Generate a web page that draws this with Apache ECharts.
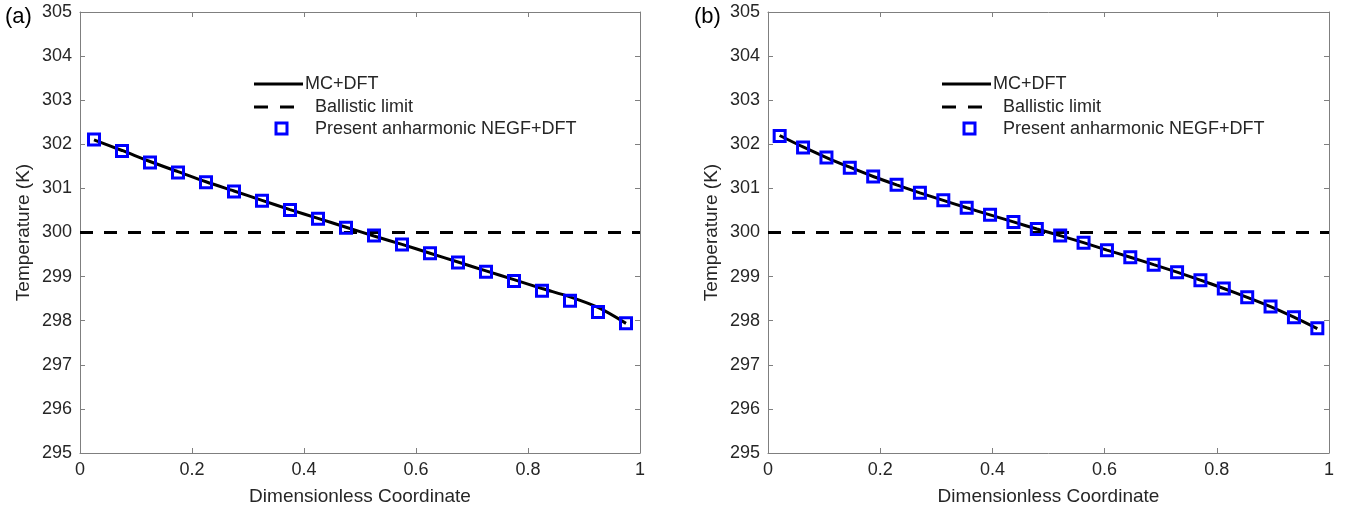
<!DOCTYPE html>
<html><head><meta charset="utf-8">
<script src="https://cdn.jsdelivr.net/npm/echarts@6/dist/echarts.min.js"></script>
<style>html,body{margin:0;padding:0;background:#fff}#c{width:1354px;height:512px}</style>
</head><body><div id="c"></div>
<script>
// ---- data ----
const xTicks = [0, 0.2, 0.4, 0.6, 0.8, 1];
const yTicks = [295, 296, 297, 298, 299, 300, 301, 302, 303, 304, 305];
const legendNames = ['MC+DFT', 'Ballistic limit', 'Present anharmonic NEGF+DFT'];
const panelLabels = ['(a)', '(b)'];

// panel (a): 20 points
const xA = [0.025,0.075,0.125,0.175,0.225,0.275,0.325,0.375,0.425,0.475,0.525,0.575,0.625,0.675,0.725,0.775,0.825,0.875,0.925,0.975];
const negfA = [302.11,301.85,301.59,301.36,301.14,300.93,300.72,300.51,300.31,300.11,299.93,299.73,299.53,299.32,299.11,298.90,298.68,298.45,298.20,297.94];
const mcA = [302.10,301.86,301.61,301.38,301.15,300.94,300.73,300.52,300.32,300.12,299.92,299.73,299.53,299.33,299.13,298.93,298.73,298.54,298.30,297.94];

// panel (b): 24 points
const xB = [0.0208,0.0625,0.1042,0.1458,0.1875,0.2292,0.2708,0.3125,0.3542,0.3958,0.4375,0.4792,0.5208,0.5625,0.6042,0.6458,0.6875,0.7292,0.7708,0.8125,0.8542,0.8958,0.9375,0.9792];
const negfB = [302.19,301.93,301.70,301.47,301.27,301.08,300.90,300.73,300.56,300.40,300.24,300.08,299.93,299.77,299.60,299.44,299.27,299.10,298.92,298.73,298.53,298.32,298.08,297.83];
const mcB = [302.20,301.94,301.70,301.48,301.27,301.08,300.90,300.73,300.56,300.40,300.24,300.08,299.93,299.77,299.60,299.44,299.27,299.10,298.92,298.73,298.53,298.32,298.08,297.82];

const ballisticX = [0, 1];
const ballisticY = [300, 300];

// ---- styling ----
const FONT = '"Liberation Sans", Arial, sans-serif';
const AX = '#7f7f7f';
const TXT = '#262626';

const pairs = (xs, ys) => xs.map((x, i) => [x, ys[i]]);

const grids = [
  {left: 80, right: 714, top: 12, bottom: 59},
  {left: 768, right: 25, top: 12, bottom: 59}
];

function xAxes(g) {
  return [
    {type:'value', gridIndex:g, position:'bottom', min:0, max:1, interval:0.2,
     axisLine:{show:true, onZero:false, lineStyle:{color:AX, width:1}},
     axisTick:{show:true, inside:true, length:5, lineStyle:{color:AX}},
     axisLabel:{show:true, margin:8, color:TXT, fontSize:18, fontFamily:FONT,
       formatter: v => (xTicks.indexOf(+v.toFixed(1)) >= 0 ? String(+v.toFixed(1)) : '')},
     splitLine:{show:false},
     name:'Dimensionless Coordinate', nameLocation:'middle', nameGap:34,
     nameTextStyle:{color:TXT, fontSize:19, fontFamily:FONT}},
    {type:'value', gridIndex:g, position:'top', min:0, max:1, interval:0.2,
     axisLine:{show:true, onZero:false, lineStyle:{color:AX, width:1}},
     axisTick:{show:true, inside:true, length:5, lineStyle:{color:AX}},
     axisLabel:{show:false}, splitLine:{show:false}}
  ];
}
function yAxes(g) {
  return [
    {type:'value', gridIndex:g, position:'left', min:295, max:305, interval:1,
     axisLine:{show:true, onZero:false, lineStyle:{color:AX, width:1}},
     axisTick:{show:true, inside:true, length:5, lineStyle:{color:AX}},
     axisLabel:{show:true, margin:8, color:TXT, fontSize:18, fontFamily:FONT,
       formatter: v => (yTicks.indexOf(Math.round(v)) >= 0 ? String(Math.round(v)) : '')},
     splitLine:{show:false},
     name:'Temperature (K)', nameLocation:'middle', nameGap:47, nameRotate:90,
     nameTextStyle:{color:TXT, fontSize:19, fontFamily:FONT}},
    {type:'value', gridIndex:g, position:'right', min:295, max:305, interval:1,
     axisLine:{show:true, onZero:false, lineStyle:{color:AX, width:1}},
     axisTick:{show:true, inside:true, length:5, lineStyle:{color:AX}},
     axisLabel:{show:false}, splitLine:{show:false}}
  ];
}

function panelSeries(g, xs, mc, negf) {
  const xi = g * 2, yi = g * 2;
  return [
    {type:'line', xAxisIndex:xi, yAxisIndex:yi, data:pairs(ballisticX, ballisticY),
     showSymbol:false, symbol:'none', silent:true, z:2,
     lineStyle:{color:'#000', width:3, type:[13, 11]}},
    {type:'line', xAxisIndex:xi, yAxisIndex:yi, data:pairs(xs, mc),
     showSymbol:false, symbol:'none', smooth:0.3, silent:true, z:3,
     lineStyle:{color:'#000', width:3}},
    {type:'scatter', xAxisIndex:xi, yAxisIndex:yi, data:pairs(xs, negf),
     symbol:'rect', symbolSize:11, z:4,
     itemStyle:{color:'rgba(0,0,0,0)', borderColor:'#0000ff', borderWidth:3, opacity:1}}
  ];
}

function legendGraphic(dx) {
  const tStyle = (x, y, t) => ({type:'text', x:x + dx, y:y,
    style:{text:t, fill:TXT, font:'18px ' + FONT, verticalAlign:'middle'}});
  return [
    {type:'line', shape:{x1:254 + dx, y1:84, x2:303 + dx, y2:84}, style:{stroke:'#000', lineWidth:3}},
    tStyle(305, 84, legendNames[0]),
    {type:'line', shape:{x1:254 + dx, y1:107, x2:296 + dx, y2:107}, style:{stroke:'#000', lineWidth:3, lineDash:[14, 12]}},
    tStyle(315, 107, legendNames[1]),
    {type:'rect', shape:{x:276 + dx, y:123, width:11, height:11}, style:{fill:'none', stroke:'#0000ff', lineWidth:3}},
    tStyle(315, 129, legendNames[2])
  ];
}

const option = {
  animation:false,
  backgroundColor:'#fff',
  grid: grids,
  xAxis: [...xAxes(0), ...xAxes(1)],
  yAxis: [...yAxes(0), ...yAxes(1)],
  series: [...panelSeries(0, xA, mcA, negfA), ...panelSeries(1, xB, mcB, negfB)],
  graphic: [
    ...legendGraphic(0), ...legendGraphic(688),
    {type:'text', x:5, y:17, style:{text:panelLabels[0], fill:'#000', font:'22px ' + FONT, verticalAlign:'middle'}},
    {type:'text', x:694, y:17, style:{text:panelLabels[1], fill:'#000', font:'22px ' + FONT, verticalAlign:'middle'}}
  ]
};

const chart = echarts.init(document.getElementById('c'), null, {renderer:'canvas'});
chart.setOption(option);
</script>
</body></html>
